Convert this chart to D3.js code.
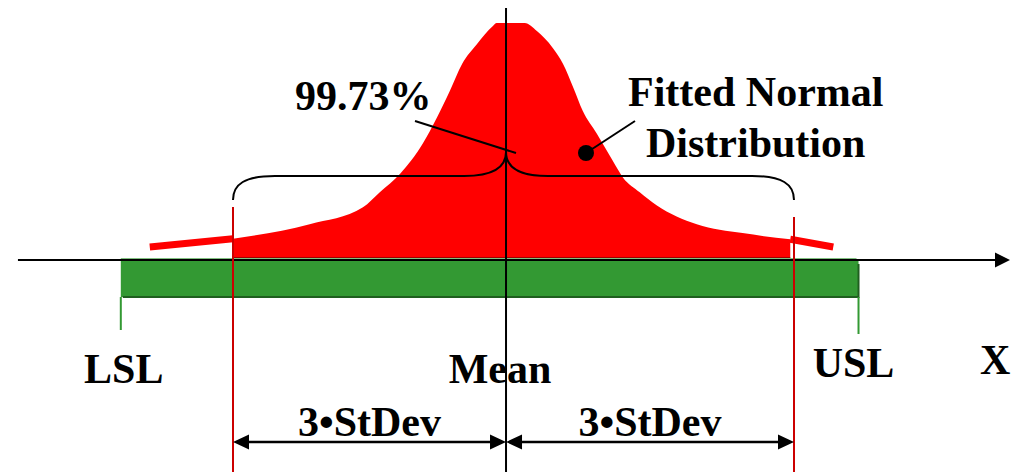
<!DOCTYPE html>
<html>
<head>
<meta charset="utf-8">
<script src="https://cdn.jsdelivr.net/npm/d3@7"></script>
<style>
  body { margin: 0; background: #fff; }
  text { font-family: "Liberation Serif", "Times New Roman", serif; font-weight: bold; font-size: 42px; fill: #000; }
</style>
</head>
<body>
<div class="chart"></div>
<script>
// curve, x in standard deviations, height relative to the peak
var curveX = [-3.89, -3.0, -2.18, -1.61, -1.43, -1.21, -0.97, -0.82, -0.68, -0.55, -0.39, -0.22, -0.18, 0.12, 0.25, 0.42, 0.53, 0.64, 0.74, 0.89, 1.06, 1.17, 1.35, 1.53, 1.96, 2.45, 2.96, 3.42];
var curveY = [0.047, 0.082, 0.144, 0.216, 0.28, 0.36, 0.487, 0.597, 0.712, 0.826, 0.911, 0.987, 1.0, 1.0, 0.966, 0.894, 0.826, 0.725, 0.627, 0.53, 0.415, 0.343, 0.28, 0.225, 0.144, 0.106, 0.08, 0.047];

var specNames = [`LSL`, `Mean`, `USL`];
var specValues = [-4.2, -0.08, 3.69];
var sigmaLimits = [-3, 3];
var axisExtent = [-5.3, 5.31];
var spanLabel = `3•StDev`;
var coverLabel = `99.73%`;
var fitLabel = [`Fitted Normal`, `Distribution`];

var width = 1017, height = 472;

var svg = d3.select(`.chart`)
    .append(`svg`)
    .attr(`width`, width)
    .attr(`height`, height)
    .attr(`viewBox`, `0 0 ${width} ${height}`);

var x = d3.scaleLinear().domain([-3, 3]).range([233, 794]);
var y = d3.scaleLinear().domain([0, 1]).range([258, 23]);

var pts = curveX.map((v, i) => ({x: v, y: curveY[i]}));
var lsl = specValues[0], mean = specValues[1], usl = specValues[2];
var baseY = y(0) + 2;

// green tolerance bar
svg.append(`rect`)
    .attr(`x`, x(lsl)).attr(`y`, baseY - 1)
    .attr(`width`, x(usl) - x(lsl)).attr(`height`, 38)
    .style(`fill`, `#339933`);
svg.append(`line`)
    .attr(`x1`, x(lsl) + 2).attr(`x2`, x(usl))
    .attr(`y1`, baseY + 37).attr(`y2`, baseY + 37)
    .style(`stroke`, `#1f5f1f`).style(`stroke-width`, 2);
svg.append(`line`)
    .attr(`x1`, x(usl)).attr(`x2`, x(usl))
    .attr(`y1`, baseY + 4).attr(`y2`, baseY + 38)
    .style(`stroke`, `#1f5f1f`).style(`stroke-width`, 2);
svg.append(`line`)
    .attr(`x1`, x(lsl)).attr(`x2`, x(usl) - 2)
    .attr(`y1`, baseY - 1).attr(`y2`, baseY - 1)
    .style(`stroke`, `#80c080`).style(`stroke-width`, 2);
[lsl, usl].forEach((v, i) => {
    svg.append(`line`)
        .attr(`x1`, x(v)).attr(`x2`, x(v))
        .attr(`y1`, baseY + 37).attr(`y2`, baseY + 70 + i * 4)
        .style(`stroke`, `#339933`).style(`stroke-width`, 2);
});

// fitted curve: filled inside +-3 sd, tails as thick line
var inside = pts.filter(d => d.x >= sigmaLimits[0] && d.x <= sigmaLimits[1]);
var area = d3.area().x(d => x(d.x)).y0(y(0)).y1(d => y(d.y)).curve(d3.curveMonotoneX);
svg.append(`path`).attr(`d`, area(inside)).style(`fill`, `#ff0000`);
svg.append(`line`)
    .attr(`x1`, x(sigmaLimits[0])).attr(`x2`, x(2.96))
    .attr(`y1`, y(0) - 0.5).attr(`y2`, y(0) - 0.5)
    .style(`stroke`, `#a00000`).style(`stroke-width`, 1);
var tail = d3.line().x(d => x(d.x)).y(d => y(d.y));
svg.append(`path`).attr(`d`, tail(pts.filter(d => d.x <= sigmaLimits[0])))
    .style(`fill`, `none`).style(`stroke`, `#ff0000`).style(`stroke-width`, 7);
svg.append(`path`).attr(`d`, tail(pts.filter(d => d.x >= 2.96)))
    .style(`fill`, `none`).style(`stroke`, `#ff0000`).style(`stroke-width`, 7);

// x axis with arrow
svg.append(`line`)
    .attr(`x1`, x(axisExtent[0])).attr(`x2`, x(axisExtent[1]) - 10)
    .attr(`y1`, baseY).attr(`y2`, baseY)
    .style(`stroke`, `#000`).style(`stroke-width`, 2);
var ax = x(axisExtent[1]);
svg.append(`path`)
    .attr(`d`, `M${ax},${baseY} L${ax - 15},${baseY - 7.5} L${ax - 15},${baseY + 7.5} Z`)
    .style(`fill`, `#000`);

// +-3 sd limit lines and mean line
[[sigmaLimits[0], 207], [sigmaLimits[1], 217]].forEach(d => {
    svg.append(`line`)
        .attr(`x1`, x(d[0])).attr(`x2`, x(d[0]))
        .attr(`y1`, d[1]).attr(`y2`, height)
        .style(`stroke`, `#cc0000`).style(`stroke-width`, 2);
});
svg.append(`line`)
    .attr(`x1`, x(mean)).attr(`x2`, x(mean))
    .attr(`y1`, 8).attr(`y2`, height)
    .style(`stroke`, `#000`).style(`stroke-width`, 2);

// brace over +-3 sd
var bl = x(sigmaLimits[0]), br = x(sigmaLimits[1]), bm = x(mean);
var bp = d3.path();
bp.moveTo(bl, 200);
bp.bezierCurveTo(bl, 184, bl + 12, 176, bl + 42, 176);
bp.lineTo(bm - 42, 176);
bp.bezierCurveTo(bm - 14, 176, bm, 168, bm, 152);
bp.bezierCurveTo(bm, 168, bm + 14, 176, bm + 42, 176);
bp.lineTo(br - 42, 176);
bp.bezierCurveTo(br - 12, 176, br, 184, br, 200);
svg.append(`path`).attr(`d`, bp.toString())
    .style(`fill`, `none`).style(`stroke`, `#000`).style(`stroke-width`, 2);

// leader lines
svg.append(`line`)
    .attr(`x1`, 415).attr(`y1`, 121).attr(`x2`, bm + 10).attr(`y2`, 153)
    .style(`stroke`, `#000`).style(`stroke-width`, 2);
svg.append(`line`)
    .attr(`x1`, 635).attr(`y1`, 121).attr(`x2`, 586).attr(`y2`, 153)
    .style(`stroke`, `#000`).style(`stroke-width`, 2);
svg.append(`circle`).attr(`cx`, 586).attr(`cy`, 153).attr(`r`, 8).style(`fill`, `#000`);

// double arrows for 3 sd spans
var ay = 442;
[[sigmaLimits[0], mean], [mean, sigmaLimits[1]]].forEach(s => {
    var a = x(s[0]), b = x(s[1]);
    svg.append(`line`)
        .attr(`x1`, a + 10).attr(`x2`, b - 10).attr(`y1`, ay).attr(`y2`, ay)
        .style(`stroke`, `#000`).style(`stroke-width`, 2.5);
    svg.append(`path`)
        .attr(`d`, `M${a},${ay} L${a + 16},${ay - 7.5} L${a + 16},${ay + 7.5} Z M${b},${ay} L${b - 16},${ay - 7.5} L${b - 16},${ay + 7.5} Z`)
        .style(`fill`, `#000`);
    svg.append(`text`)
        .attr(`x`, (a + b) / 2).attr(`y`, 436)
        .attr(`text-anchor`, `middle`)
        .text(spanLabel);
});

// labels
svg.append(`text`).attr(`x`, 295).attr(`y`, 110).text(coverLabel);
svg.append(`text`).attr(`x`, 628).attr(`y`, 106).text(fitLabel[0]);
svg.append(`text`).attr(`x`, 646).attr(`y`, 157).text(fitLabel[1]);

var labelShift = [3, -6, -5];
var labelBase = [383, 383, 377];
specNames.forEach((n, i) => {
    svg.append(`text`)
        .attr(`x`, x(specValues[i]) + labelShift[i])
        .attr(`y`, labelBase[i])
        .attr(`text-anchor`, `middle`)
        .text(n);
});
svg.append(`text`).attr(`x`, 980).attr(`y`, 374).text(`X`);
</script>
</body>
</html>
